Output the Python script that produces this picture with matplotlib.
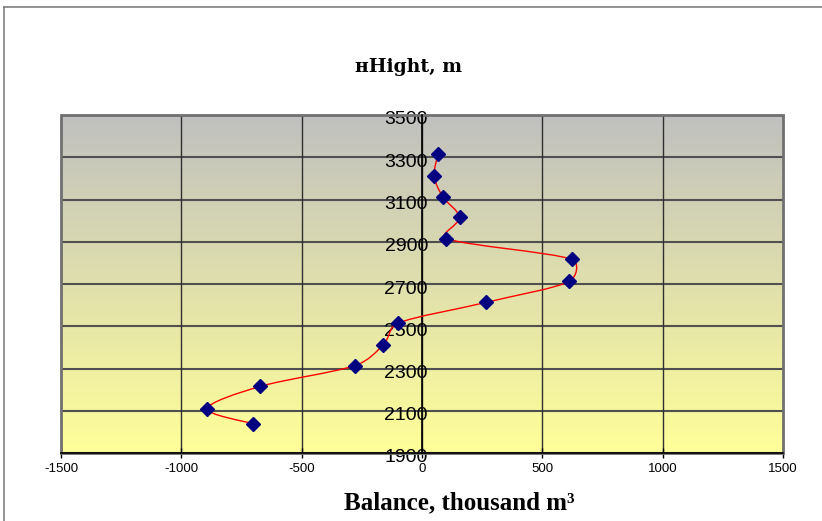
import numpy as np
import matplotlib
matplotlib.use("Agg")
import matplotlib.pyplot as plt
from matplotlib.path import Path
from matplotlib.patches import PathPatch, Rectangle
from matplotlib.lines import Line2D
from matplotlib.colors import LinearSegmentedColormap
from matplotlib.transforms import ScaledTranslation

# Data
height_m = [2038, 2110, 2215, 2314, 2412, 2514, 2613, 2712, 2817, 2915, 3015, 3112, 3211, 3317]
balance = [-701, -892, -673, -278, -161, -101, 266, 611, 622, 100, 156, 87, 51, 67]
x_ticks = [-1500, -1000, -500, 0, 500, 1000, 1500]
y_ticks = [1900, 2100, 2300, 2500, 2700, 2900, 3100, 3300, 3500]
title_text = "нHight, m"
xlabel_text = "Balance, thousand m³"

W, H = 822, 521
fig = plt.figure(figsize=(W / 100, H / 100), dpi=100)
fig.patch.set_facecolor("white")

# outer chart-area border (left and top visible)
fig.add_artist(Line2D([4 / W, 4 / W], [0, 1 - 7 / H], transform=fig.transFigure, color="#808080", lw=1.2))
fig.add_artist(Line2D([4 / W, 1], [1 - 7 / H, 1 - 7 / H], transform=fig.transFigure, color="#808080", lw=1.2))

L, R, T, B = 61, 783, 115, 453
ax = fig.add_axes([L / W, 1 - B / H, (R - L) / W, (B - T) / H])
ax.set_xlim(-1500, 1500)
ax.set_ylim(1900, 3500)

# gradient background
cmap = LinearSegmentedColormap.from_list("bg", ["#FFFF99", "#C0C0C0"])
grad = np.linspace(0, 1, 256).reshape(-1, 1)
ax.imshow(grad, extent=[0, 1, 0, 1], transform=ax.transAxes, origin="lower",
          cmap=cmap, aspect="auto", zorder=0)

# gridlines
for yv in y_ticks:
    ax.axhline(yv, color="#505050", lw=1.5, zorder=1)
for xv in x_ticks[1:-1]:
    ax.axvline(xv, color="#303030", lw=1.0, zorder=1)

# plot-area border
ax.add_patch(Rectangle((0, 0), 1, 1, transform=ax.transAxes, fill=False,
                       edgecolor="#707070", lw=2.0, zorder=2, clip_on=False))

# smoothed line (Excel-like Bezier smoothing, computed in display space)
pts = ax.transData.transform(np.column_stack([balance, height_m]).astype(float))
n = len(pts)


def ctrl(prev_pt, nxt_pt, seg):
    t = (nxt_pt - prev_pt) / 6.0
    ln = np.linalg.norm(t)
    lim = seg * 0.4
    if ln > lim and ln > 0:
        t = t * lim / ln
    return t


verts = [pts[0]]
codes = [Path.MOVETO]
for i in range(n - 1):
    p0 = pts[i - 1] if i > 0 else pts[i]
    p1 = pts[i]
    p2 = pts[i + 1]
    p3 = pts[i + 2] if i + 2 < n else pts[i + 1]
    seg = np.linalg.norm(p2 - p1)
    c1 = p1 + ctrl(p0, p2, seg)
    c2 = p2 - ctrl(p1, p3, seg)
    verts += [c1, c2, p2]
    codes += [Path.CURVE4] * 3
verts_data = ax.transData.inverted().transform(np.array(verts))
ax.add_patch(PathPatch(Path(verts_data, codes), fill=False, edgecolor="#FF0000", lw=1.0, zorder=3))

ax.plot(balance, height_m, linestyle="none", marker="D", markersize=6.8,
        color="#000080", markeredgecolor="#000080", zorder=4)

# axes
for s in ["top", "right"]:
    ax.spines[s].set_visible(False)
ax.spines["left"].set_position(("data", 0))
ax.spines["left"].set_color("black")
ax.spines["left"].set_linewidth(1.2)
ax.spines["left"].set_zorder(2.5)
ax.spines["bottom"].set_color("black")
ax.spines["bottom"].set_linewidth(1.2)
ax.spines["bottom"].set_zorder(2.5)

ax.set_xticks(x_ticks)
ax.set_xticklabels([str(v) for v in x_ticks])
ax.set_yticks(y_ticks)
ax.set_yticklabels([str(v) for v in y_ticks])
ax.tick_params(axis="x", direction="inout", length=7, width=1, pad=4,
               labelsize=9.5, labelfontfamily="Liberation Sans")
ax.tick_params(axis="y", direction="inout", length=0, width=1, pad=-4.3,
               labelsize=14, labelfontfamily="Liberation Sans")
for lbl in ax.get_yticklabels():
    lbl.set_transform(lbl.get_transform() + ScaledTranslation(0, -3 / 100, fig.dpi_scale_trans))

fig.text(408 / W, 1 - 67 / H, title_text, ha="center", va="center",
         family="DejaVu Serif", weight="bold", fontsize=13.5)
fig.text(459 / W, 1 - 503 / H, xlabel_text, ha="center", va="center",
         family="Liberation Serif", weight="bold", fontsize=18)

fig.savefig("out.png", dpi=100)
